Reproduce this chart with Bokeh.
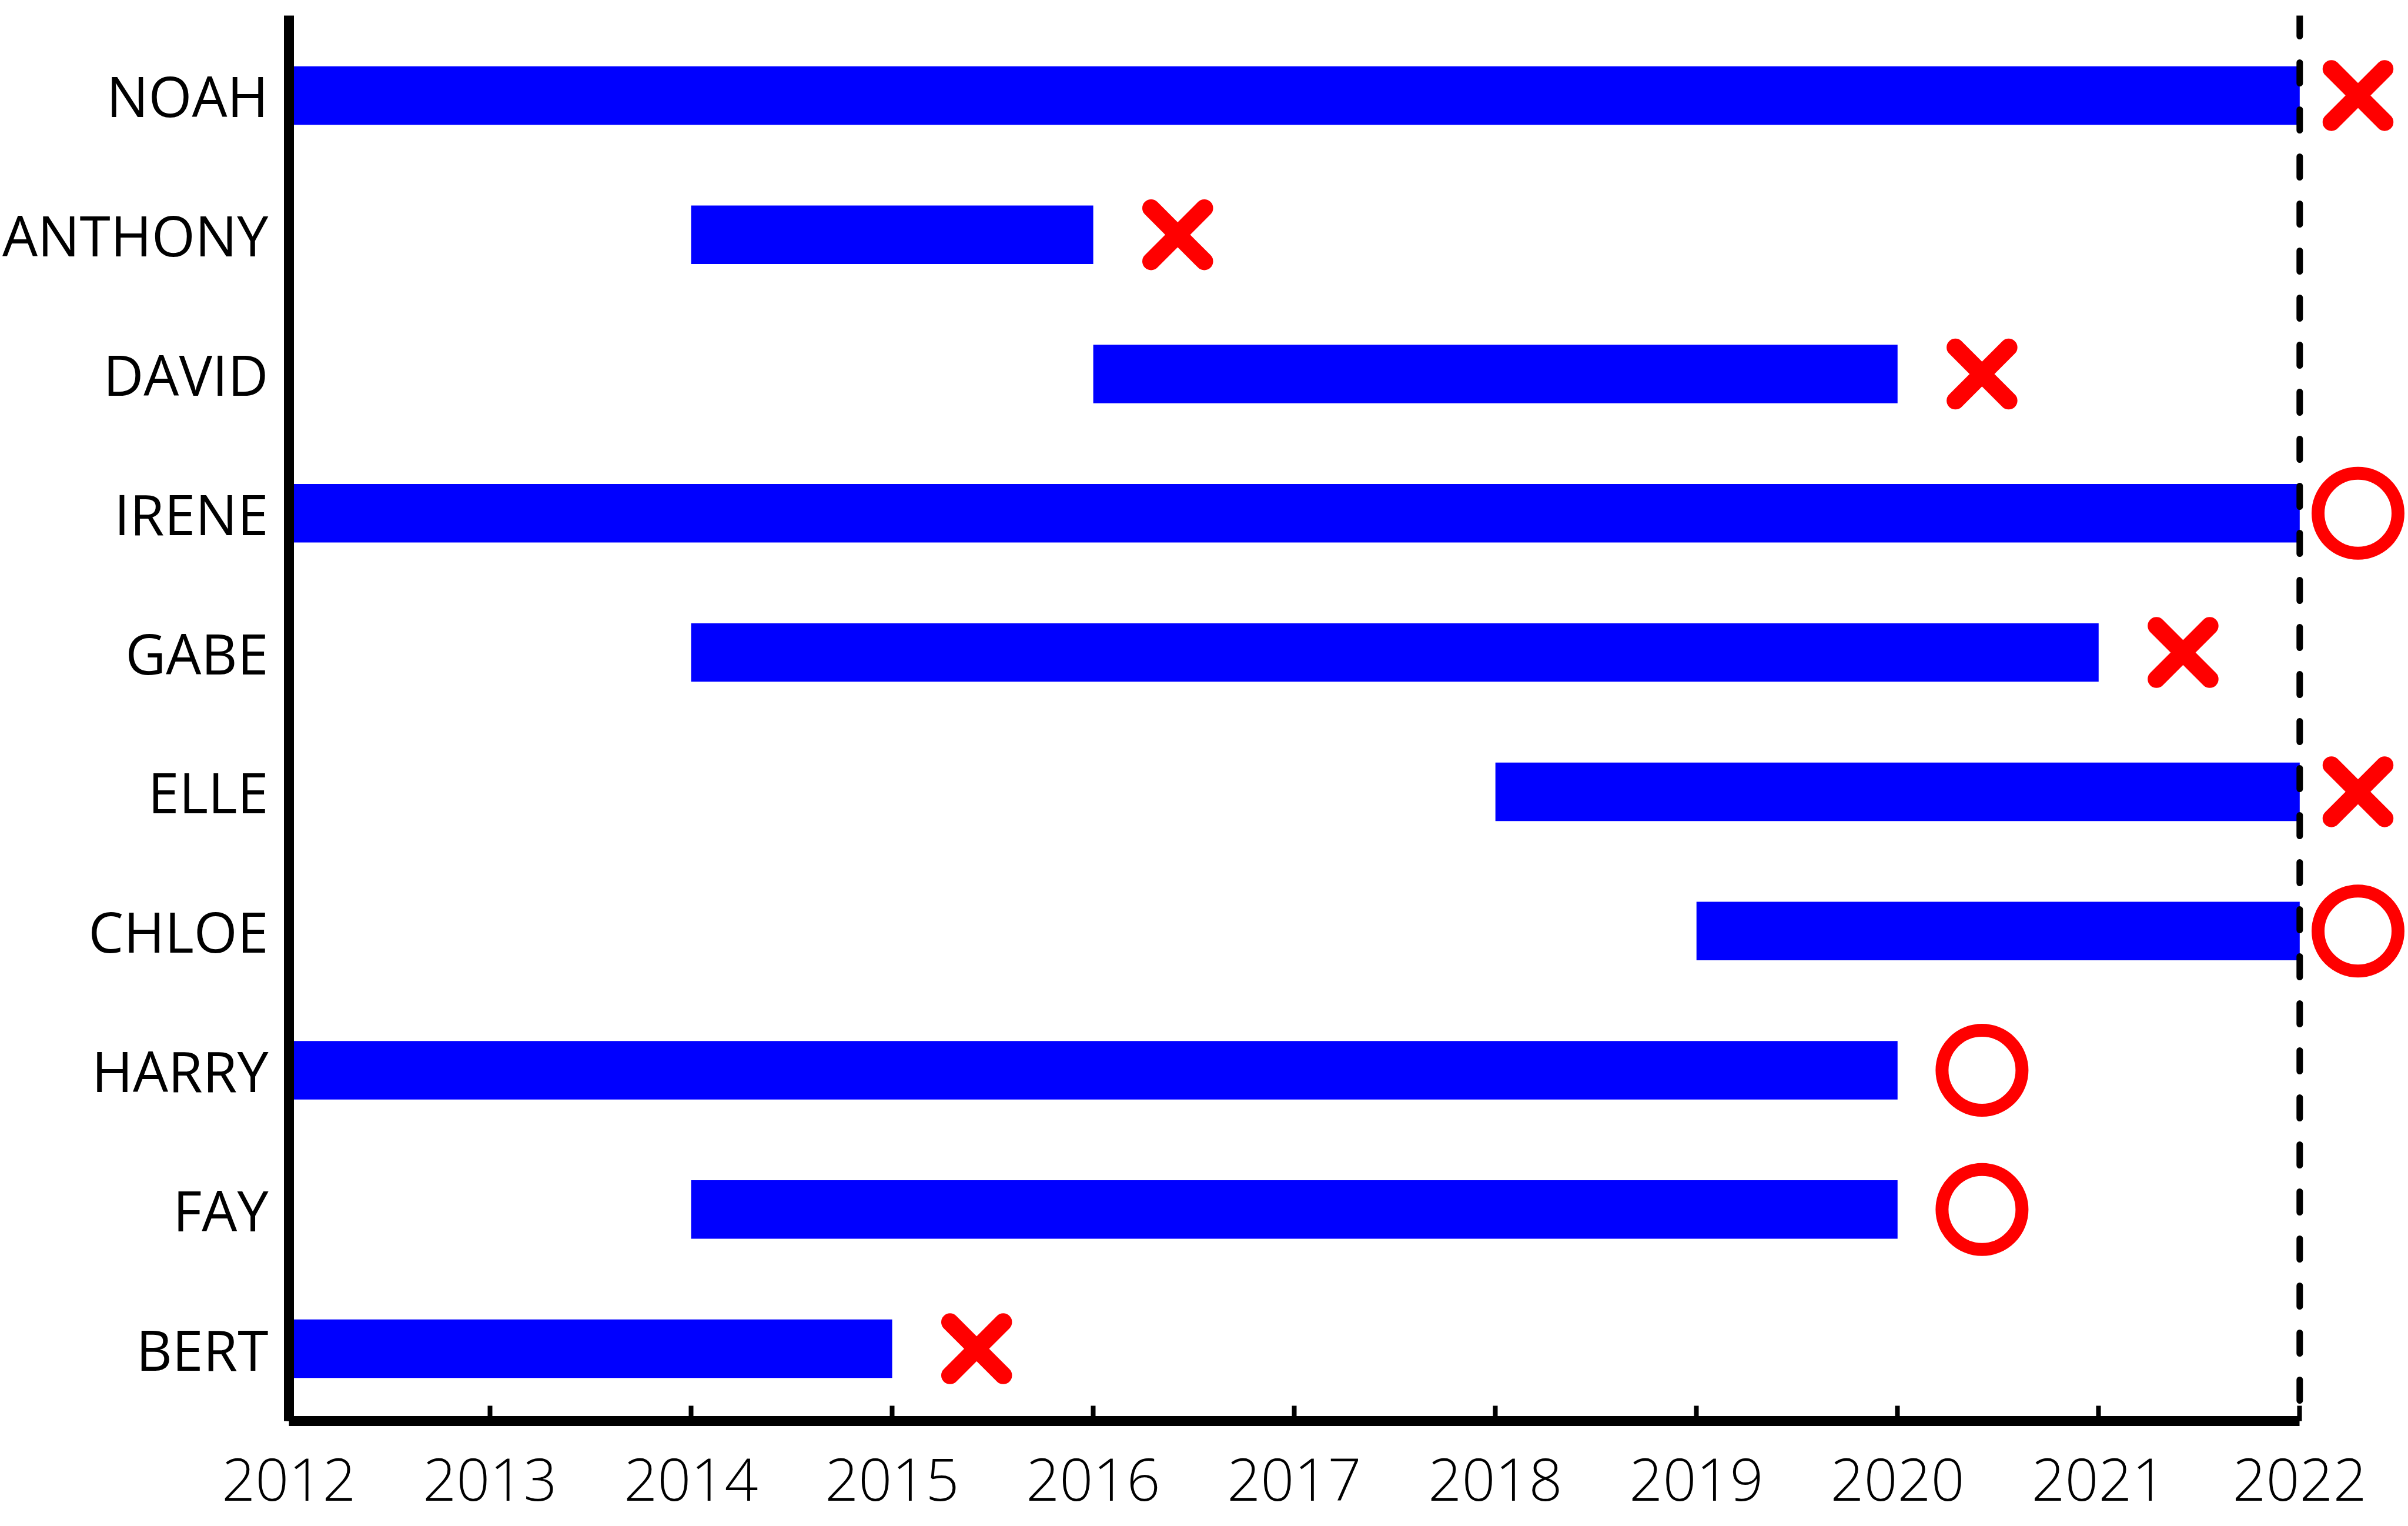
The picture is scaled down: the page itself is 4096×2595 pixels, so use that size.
from bokeh.plotting import figure
from bokeh.models import Range1d, FixedTicker, Span, ColumnDataSource
from bokeh.embed import file_html
from bokeh.resources import INLINE

# ---- data ----
names = ["NOAH", "ANTHONY", "DAVID", "IRENE", "GABE", "ELLE", "CHLOE", "HARRY", "FAY", "BERT"]
start_year = [2012, 2014, 2016, 2012, 2014, 2018, 2019, 2012, 2014, 2012]
end_year = [2022, 2016, 2020, 2022, 2021, 2022, 2022, 2020, 2020, 2015]
status = ["x", "x", "x", "o", "x", "x", "o", "o", "o", "x"]
years = [2012, 2013, 2014, 2015, 2016, 2017, 2018, 2019, 2020, 2021, 2022]
today = 2022

# ---- layout ----
W, H = 4096, 2595
FONT = "Open Sans"

rows = list(range(len(names)))
p = figure(width=W, height=H, output_backend="svg", toolbar_location=None,
           x_range=Range1d(2012, 2022.54), y_range=Range1d(9.519, -0.574),
           min_border_left=491, min_border_right=0, min_border_top=26,
           min_border_bottom=179)
p.outline_line_color = None
p.xgrid.visible = False
p.ygrid.visible = False
p.background_fill_color = "white"
p.border_fill_color = "white"

src = ColumnDataSource(dict(y=rows, left=start_year, right=end_year))
p.hbar(y="y", left="left", right="right", height=0.42, source=src,
       fill_color="#0000FF", line_color=None)

mx_x, my_x, mx_o, my_o = [], [], [], []
for i, (e, s) in enumerate(zip(end_year, status)):
    xm = min(e + 0.42, today + 0.29)
    if s == "x":
        mx_x.append(xm); my_x.append(i)
    else:
        mx_o.append(xm); my_o.append(i)

p.scatter(x=mx_x, y=my_x, marker="x", size=128, line_color="#FF0000",
          line_width=30, line_cap="round")
p.scatter(x=mx_o, y=my_o, marker="circle", size=136, fill_color=None,
          line_color="#FF0000", line_width=22)

p.add_layout(Span(location=today, dimension="height", line_color="black",
                  line_width=11, line_dash="35 45", line_cap="round"))

# x axis
xa = p.xaxis[0]
xa.ticker = FixedTicker(ticks=years)
xa.bounds = (2012, 2022)
xa.axis_line_width = 17
xa.axis_line_color = "black"
xa.major_tick_in = 26
xa.major_tick_out = 0
xa.major_tick_line_width = 8
xa.minor_tick_line_color = None
xa.major_label_text_font = FONT
xa.major_label_text_font_size = "100px"
xa.major_label_text_color = "black"
xa.major_label_standoff = 62

# y axis
ya = p.yaxis[0]
ya.ticker = FixedTicker(ticks=rows)
ya.major_label_overrides = {i: n for i, n in enumerate(names)}
ya.axis_line_width = 17
ya.axis_line_color = "black"
ya.major_tick_in = 0
ya.major_tick_out = 0
ya.major_tick_line_color = None
ya.minor_tick_line_color = None
ya.major_label_text_font = FONT
ya.major_label_text_font_size = "95px"
ya.major_label_text_color = "black"
ya.major_label_standoff = 35

open("out.html", "w").write(file_html(p, INLINE))
